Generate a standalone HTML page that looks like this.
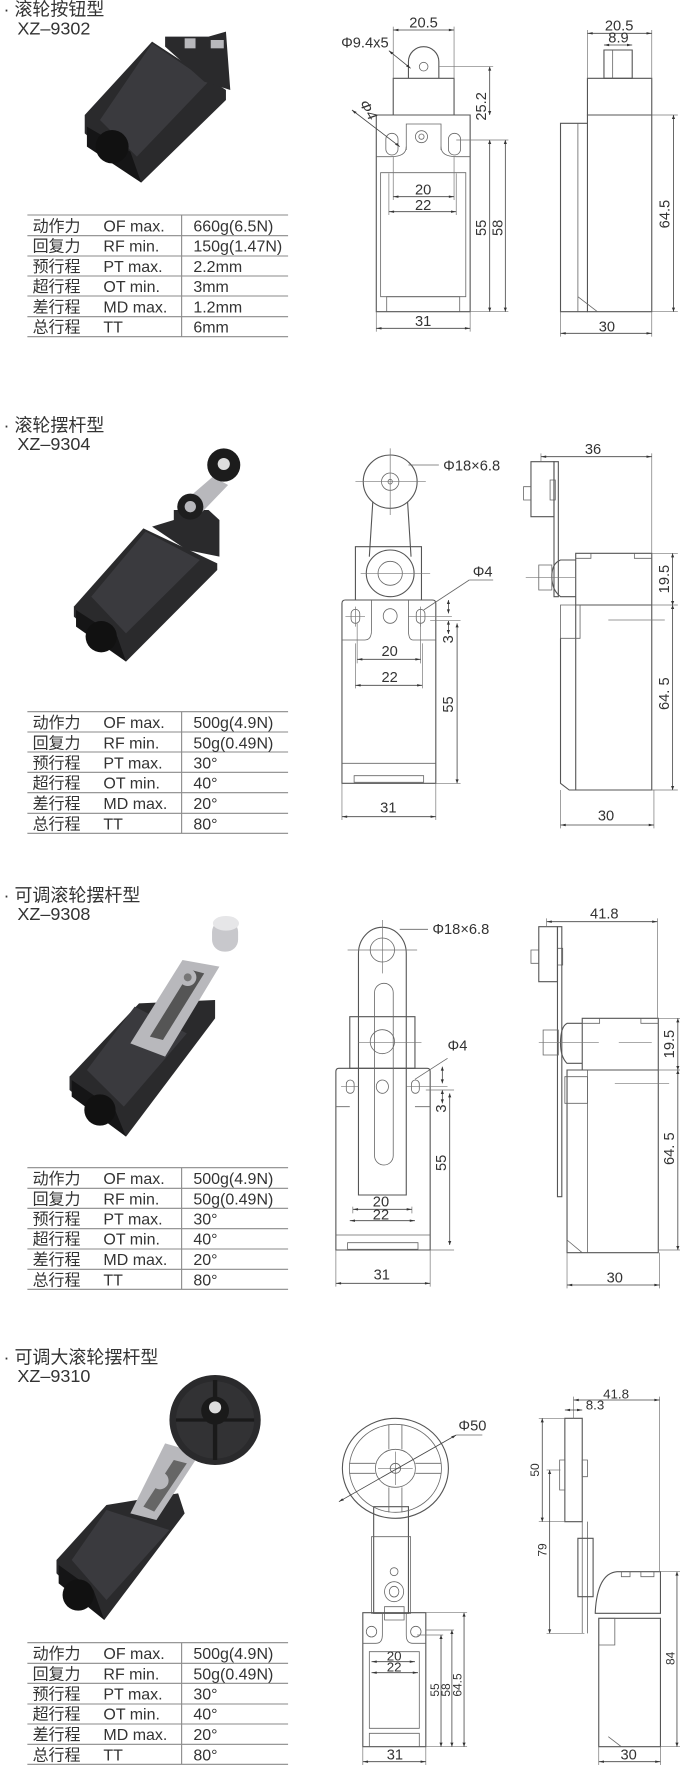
<!DOCTYPE html>
<html><head><meta charset="utf-8">
<style>
html,body{margin:0;padding:0;background:#fff;width:680px;height:1765px;overflow:hidden;position:relative}
svg.s{position:absolute;left:0;width:680px}
svg text{font-family:"Liberation Sans","Noto Sans CJK SC",sans-serif;fill:#333;font-size:44px}
svg text:not(.r){transform:scaleX(.767);transform-box:fill-box;transform-origin:0 0}
.l,.t,.d,.c,.tb line{vector-effect:non-scaling-stroke}
.l{stroke:#555;stroke-width:1.1;fill:none}
.t{stroke:#666;stroke-width:.8;fill:none}
.d{stroke:#444;stroke-width:.8;fill:none;marker-start:url(#a);marker-end:url(#a)}
.c{stroke:#777;stroke-width:.7;fill:none}
.tb line{stroke:#8a8a8a;stroke-width:1.1}
.ph{fill:#2a2a2c}
.ph2{fill:#3a3a3e}
.ph3{fill:#151516}
.m{fill:#b8b8bc}
.big{font-size:54px}
.tx{font-size:48px}
</style></head><body>
<svg width="0" height="0" style="position:absolute"><defs>
<marker id="a" viewBox="0 0 10 10" refX="10" refY="5" markerWidth="16" markerHeight="12" markerUnits="userSpaceOnUse" orient="auto-start-reverse"><path d="M0,2L10,5L0,8z" fill="#333"/></marker>
</defs></svg>

<!-- SECTION 1 -->
<svg class="s" style="top:0;height:420px" viewBox="0 0 1565 1260" preserveAspectRatio="none">
<text x="8" y="46" class="big">· 滚轮按钮型</text>
<text x="40" y="104" class="big">XZ–9302</text>
<polygon class="ph" points="350,125 520,270 520,300 325,548 195,400 195,345"/>
<polygon class="ph2" points="350,130 480,245 315,470 230,360"/>
<polygon class="ph3" points="200,380 300,455 325,548 200,440"/>
<ellipse cx="258" cy="440" rx="38" ry="50" fill="#111"/>
<polygon class="ph" points="380,110 480,110 520,95 530,270 470,245 380,140"/>
<rect x="425" y="115" width="25" height="30" class="m"/>
<rect x="485" y="120" width="30" height="25" class="m"/>
<g class="tb"><line x1="63" y1="645" x2="663" y2="645"/><line x1="63" y1="707" x2="663" y2="707"/><line x1="63" y1="768" x2="663" y2="768"/><line x1="63" y1="828" x2="663" y2="828"/><line x1="63" y1="888" x2="663" y2="888"/><line x1="63" y1="950" x2="663" y2="950"/><line x1="63" y1="1010" x2="663" y2="1010"/><line x1="418" y1="645" x2="418" y2="1010"/></g>
<text class="tx" x="75" y="694">动作力</text><text class="tx" x="238" y="694">OF  max.</text><text class="tx" x="445" y="694">660g(6.5N)</text>
<text class="tx" x="75" y="755">回复力</text><text class="tx" x="238" y="755">RF  min.</text><text class="tx" x="445" y="755">150g(1.47N)</text>
<text class="tx" x="75" y="816">预行程</text><text class="tx" x="238" y="816">PT  max.</text><text class="tx" x="445" y="816">2.2mm</text>
<text class="tx" x="75" y="876">超行程</text><text class="tx" x="238" y="876">OT  min.</text><text class="tx" x="445" y="876">3mm</text>
<text class="tx" x="75" y="937">差行程</text><text class="tx" x="238" y="937">MD max.</text><text class="tx" x="445" y="937">1.2mm</text>
<text class="tx" x="75" y="998">总行程</text><text class="tx" x="238" y="998">TT</text><text class="tx" x="445" y="998">6mm</text>
<rect x="866" y="345" width="216" height="590" class="l"/>
<rect x="905" y="235" width="140" height="110" class="l"/>
<path d="M940,235 V185 A35,45 0 0 1 1010,185 V235" class="l"/>
<ellipse cx="975" cy="200" rx="10" ry="13" class="t"/>
<path d="M935,450 V372 H1015 V450" class="t"/>
<ellipse cx="970" cy="410" rx="14" ry="18" class="t"/><ellipse cx="970" cy="410" rx="6" ry="8" class="t"/>
<path d="M866,470 H900 Q935,470 935,440 M1082,470 H1050 Q1015,470 1015,440" class="t"/>
<rect x="888" y="400" width="28" height="65" rx="14" ry="18" class="t"/>
<rect x="1032" y="400" width="28" height="65" rx="14" ry="18" class="t"/>
<rect x="876" y="518" width="196" height="372" class="t"/>
<path d="M890,935 V890 H1058 V935" class="t"/>
<line x1="905" y1="80" x2="905" y2="235" class="c"/><line x1="1045" y1="80" x2="1045" y2="235" class="c"/>
<line x1="905" y1="90" x2="1045" y2="90" class="d"/><text x="942" y="82">20.5</text>
<text x="785" y="142">Φ9.4x5</text><line x1="895" y1="152" x2="945" y2="205" class="d"/>
<line x1="1010" y1="200" x2="1135" y2="200" class="c"/>
<line x1="1127" y1="200" x2="1127" y2="345" class="d"/>
<text class="r" transform="translate(1118,362) rotate(-90) scale(1,0.767)">25.2</text>
<text class="r" transform="translate(825,308) rotate(65) scale(1,0.767)">Φ4</text>
<line x1="810" y1="330" x2="920" y2="440" class="d"/>
<line x1="1050" y1="420" x2="1170" y2="420" class="c"/><line x1="1082" y1="935" x2="1170" y2="935" class="c"/>
<line x1="1127" y1="420" x2="1127" y2="935" class="d"/><line x1="1163" y1="420" x2="1163" y2="935" class="d"/>
<text class="r" transform="translate(1118,708) rotate(-90) scale(1,0.767)">55</text>
<text class="r" transform="translate(1156,708) rotate(-90) scale(1,0.767)">58</text>
<line x1="905" y1="470" x2="905" y2="600" class="c"/><line x1="1045" y1="470" x2="1045" y2="600" class="c"/>
<line x1="895" y1="520" x2="895" y2="645" class="c"/><line x1="1050" y1="520" x2="1050" y2="645" class="c"/>
<line x1="905" y1="590" x2="1045" y2="590" class="d"/><text x="955" y="583">20</text>
<line x1="895" y1="635" x2="1050" y2="635" class="d"/><text x="955" y="630">22</text>
<line x1="866" y1="935" x2="866" y2="995" class="c"/><line x1="1082" y1="935" x2="1082" y2="995" class="c"/>
<line x1="866" y1="985" x2="1082" y2="985" class="d"/><text x="955" y="978">31</text>
<rect x="1352" y="345" width="148" height="590" class="l"/>
<rect x="1352" y="235" width="148" height="110" class="l"/>
<rect x="1390" y="150" width="65" height="85" class="l"/>
<line x1="1410" y1="150" x2="1410" y2="235" class="t"/>
<path d="M1352,370 H1290 V935 H1352" class="l"/>
<line x1="1330" y1="370" x2="1330" y2="935" class="t"/>
<path d="M1330,890 L1375,935" class="t"/>
<line x1="1352" y1="90" x2="1352" y2="235" class="c"/><line x1="1500" y1="90" x2="1500" y2="235" class="c"/>
<line x1="1352" y1="100" x2="1500" y2="100" class="d"/><text x="1392" y="92">20.5</text>
<line x1="1390" y1="135" x2="1455" y2="135" class="d"/><text x="1400" y="128">8.9</text>
<line x1="1500" y1="345" x2="1560" y2="345" class="c"/><line x1="1500" y1="935" x2="1560" y2="935" class="c"/>
<line x1="1550" y1="345" x2="1550" y2="935" class="d"/>
<text class="r" transform="translate(1541,685) rotate(-90) scale(1,0.767)">64.5</text>
<line x1="1290" y1="935" x2="1290" y2="1010" class="c"/><line x1="1500" y1="935" x2="1500" y2="1010" class="c"/>
<line x1="1290" y1="1000" x2="1500" y2="1000" class="d"/><text x="1378" y="995">30</text>
</svg>

<!-- SECTION 2 -->
<svg class="s" style="top:410px;height:440px" viewBox="0 0 1565 1320" preserveAspectRatio="none">
<text x="8" y="64" class="big">· 滚轮摆杆型</text>
<text x="40" y="120" class="big">XZ–9304</text>
<polygon class="ph" points="330,355 500,460 500,480 290,755 170,620 170,590"/>
<polygon class="ph2" points="335,365 460,450 290,670 210,560"/>
<polygon class="ph3" points="175,600 270,680 290,755 175,650"/>
<ellipse cx="233" cy="680" rx="36" ry="47" fill="#111"/>
<polygon class="ph" points="350,350 400,330 400,300 480,300 505,330 505,440 430,420"/>
<polygon class="m" points="410,290 490,200 525,225 455,320"/>
<ellipse cx="438" cy="290" rx="30" ry="39" fill="#1e1e1e"/><ellipse cx="438" cy="290" rx="13" ry="17" class="m"/>
<ellipse cx="515" cy="165" rx="38" ry="50" fill="#1c1c1c"/><ellipse cx="515" cy="162" rx="14" ry="18" fill="#ddd"/>
<g class="tb"><line x1="63" y1="905" x2="663" y2="905"/><line x1="63" y1="966" x2="663" y2="966"/><line x1="63" y1="1026" x2="663" y2="1026"/><line x1="63" y1="1087" x2="663" y2="1087"/><line x1="63" y1="1148" x2="663" y2="1148"/><line x1="63" y1="1210" x2="663" y2="1210"/><line x1="63" y1="1270" x2="663" y2="1270"/><line x1="418" y1="905" x2="418" y2="1270"/></g>
<text class="tx" x="75" y="954">动作力</text><text class="tx" x="238" y="954">OF  max.</text><text class="tx" x="445" y="954">500g(4.9N)</text>
<text class="tx" x="75" y="1015">回复力</text><text class="tx" x="238" y="1015">RF  min.</text><text class="tx" x="445" y="1015">50g(0.49N)</text>
<text class="tx" x="75" y="1075">预行程</text><text class="tx" x="238" y="1075">PT  max.</text><text class="tx" x="445" y="1075">30°</text>
<text class="tx" x="75" y="1136">超行程</text><text class="tx" x="238" y="1136">OT  min.</text><text class="tx" x="445" y="1136">40°</text>
<text class="tx" x="75" y="1197">差行程</text><text class="tx" x="238" y="1197">MD max.</text><text class="tx" x="445" y="1197">20°</text>
<text class="tx" x="75" y="1258">总行程</text><text class="tx" x="238" y="1258">TT</text><text class="tx" x="445" y="1258">80°</text>
<path d="M795,570 H995 Q1003,570 1003,580 V1120 H787 V580 Q787,570 795,570" class="l"/>
<rect x="818" y="410" width="152" height="160" class="l"/>
<path d="M787,690 H840 Q855,690 855,660 V570 M1003,690 H950 Q940,690 940,660 V570" class="t"/>
<line x1="787" y1="1060" x2="1003" y2="1060" class="t"/>
<rect x="815" y="1097" width="160" height="20" class="t"/>
<ellipse cx="898" cy="215" rx="62" ry="80" class="l"/><ellipse cx="898" cy="215" rx="20" ry="26" class="t"/><ellipse cx="898" cy="215" rx="5" ry="7" class="t"/>
<path d="M858,275 L850,440 M938,275 L946,440" class="l"/>
<ellipse cx="898" cy="490" rx="55" ry="70" class="l"/><ellipse cx="898" cy="490" rx="28" ry="36" class="t"/>
<line x1="818" y1="215" x2="980" y2="215" class="c"/><line x1="898" y1="115" x2="898" y2="315" class="c"/>
<line x1="830" y1="490" x2="990" y2="490" class="c"/>
<rect x="808" y="598" width="20" height="42" rx="10" ry="13" class="t"/><rect x="958" y="598" width="20" height="42" rx="10" ry="13" class="t"/>
<ellipse cx="898" cy="618" rx="16" ry="22" class="t"/>
<line x1="795" y1="620" x2="840" y2="620" class="c"/><line x1="818" y1="590" x2="818" y2="650" class="c"/>
<line x1="940" y1="620" x2="1040" y2="620" class="c"/><line x1="968" y1="590" x2="968" y2="650" class="c"/>
<line x1="940" y1="165" x2="1010" y2="165" class="t"/><text x="1020" y="182">Φ18×6.8</text>
<line x1="1080" y1="510" x2="975" y2="600" class="t"/><line x1="1080" y1="510" x2="1135" y2="510" class="t"/><text x="1088" y="500">Φ4</text>
<line x1="1032" y1="570" x2="1032" y2="610" class="d"/><line x1="1032" y1="672" x2="1032" y2="632" class="d"/>
<line x1="990" y1="632" x2="1060" y2="632" class="c"/>
<text class="r" transform="translate(1042,700) rotate(-90) scale(1,0.767)">3</text>
<line x1="822" y1="640" x2="822" y2="760" class="c"/><line x1="968" y1="640" x2="968" y2="760" class="c"/>
<line x1="818" y1="700" x2="818" y2="835" class="c"/><line x1="972" y1="700" x2="972" y2="835" class="c"/>
<line x1="822" y1="748" x2="968" y2="748" class="d"/><text x="878" y="738">20</text>
<line x1="818" y1="826" x2="972" y2="826" class="d"/><text x="878" y="816">22</text>
<line x1="1003" y1="1120" x2="1060" y2="1120" class="c"/>
<line x1="1052" y1="640" x2="1052" y2="1120" class="d"/>
<text class="r" transform="translate(1043,908) rotate(-90) scale(1,0.767)">55</text>
<line x1="787" y1="1120" x2="787" y2="1230" class="c"/><line x1="1003" y1="1120" x2="1003" y2="1230" class="c"/>
<line x1="787" y1="1220" x2="1003" y2="1220" class="d"/><text x="875" y="1208">31</text>
<rect x="1222" y="155" width="53" height="165" class="l"/>
<path d="M1222,230 H1205 V270 H1222" class="t"/>
<rect x="1266" y="210" width="12" height="60" class="t"/>
<rect x="1275" y="155" width="10" height="405" class="l"/>
<path d="M1325,585 V430 H1500 V585" class="l"/>
<path d="M1325,560 H1290 Q1270,540 1270,500 Q1270,460 1290,450 H1325" class="l"/>
<rect x="1240" y="465" width="30" height="75" class="t"/>
<line x1="1210" y1="502" x2="1325" y2="502" class="c"/>
<path d="M1360,430 V445 H1325 M1460,430 V445 H1500" class="t"/>
<rect x="1325" y="585" width="175" height="555" class="l"/>
<rect x="1290" y="585" width="45" height="100" class="t"/>
<path d="M1290,685 V1120 L1310,1140 H1325" class="l"/>
<line x1="1400" y1="630" x2="1530" y2="630" class="c"/>
<line x1="1245" y1="130" x2="1245" y2="155" class="c"/><line x1="1500" y1="130" x2="1500" y2="430" class="c"/>
<line x1="1245" y1="140" x2="1500" y2="140" class="d"/><text x="1346" y="132">36</text>
<line x1="1500" y1="430" x2="1560" y2="430" class="c"/><line x1="1500" y1="585" x2="1560" y2="585" class="c"/><line x1="1500" y1="1140" x2="1560" y2="1140" class="c"/>
<line x1="1548" y1="430" x2="1548" y2="585" class="d"/><line x1="1548" y1="585" x2="1548" y2="1140" class="d"/>
<text class="r" transform="translate(1540,550) rotate(-90) scale(1,0.767)">19.5</text>
<text class="r" transform="translate(1540,900) rotate(-90) scale(1,0.767)">64. 5</text>
<line x1="1290" y1="1140" x2="1290" y2="1255" class="c"/><line x1="1505" y1="1140" x2="1505" y2="1255" class="c"/>
<line x1="1290" y1="1245" x2="1505" y2="1245" class="d"/><text x="1376" y="1232">30</text>
</svg>

<!-- SECTION 3 -->
<svg class="s" style="top:870px;height:440px" viewBox="0 0 1565 1320" preserveAspectRatio="none">
<text x="8" y="94" class="big">· 可调滚轮摆杆型</text>
<text x="40" y="150" class="big">XZ–9308</text>
<polygon class="ph" points="320,400 495,390 495,445 290,800 160,660 160,620"/>
<polygon class="ph2" points="310,410 430,490 285,710 200,600"/>
<polygon class="ph3" points="165,630 265,720 290,800 165,680"/>
<ellipse cx="230" cy="720" rx="36" ry="47" fill="#111"/>
<polygon class="m" points="300,520 420,270 505,290 380,560"/>
<polygon fill="#555" points="345,500 440,300 470,310 375,510"/>
<ellipse cx="432" cy="322" rx="20" ry="26" class="m"/><ellipse cx="432" cy="322" rx="9" ry="12" fill="#777"/>
<rect x="488" y="150" width="60" height="95" rx="28" ry="36" fill="#c8c8cc"/><ellipse cx="520" cy="160" rx="30" ry="22" fill="#e6e6e8"/>
<g class="tb"><line x1="63" y1="893" x2="663" y2="893"/><line x1="63" y1="955" x2="663" y2="955"/><line x1="63" y1="1015" x2="663" y2="1015"/><line x1="63" y1="1076" x2="663" y2="1076"/><line x1="63" y1="1137" x2="663" y2="1137"/><line x1="63" y1="1198" x2="663" y2="1198"/><line x1="63" y1="1258" x2="663" y2="1258"/><line x1="418" y1="893" x2="418" y2="1258"/></g>
<text class="tx" x="75" y="942">动作力</text><text class="tx" x="238" y="942">OF  max.</text><text class="tx" x="445" y="942">500g(4.9N)</text>
<text class="tx" x="75" y="1003">回复力</text><text class="tx" x="238" y="1003">RF  min.</text><text class="tx" x="445" y="1003">50g(0.49N)</text>
<text class="tx" x="75" y="1063">预行程</text><text class="tx" x="238" y="1063">PT  max.</text><text class="tx" x="445" y="1063">30°</text>
<text class="tx" x="75" y="1124">超行程</text><text class="tx" x="238" y="1124">OT  min.</text><text class="tx" x="445" y="1124">40°</text>
<text class="tx" x="75" y="1185">差行程</text><text class="tx" x="238" y="1185">MD max.</text><text class="tx" x="445" y="1185">20°</text>
<text class="tx" x="75" y="1246">总行程</text><text class="tx" x="238" y="1246">TT</text><text class="tx" x="445" y="1246">80°</text>
<path d="M780,595 H983 Q990,595 990,605 V1140 H773 V605 Q773,595 780,595" class="l"/>
<rect x="805" y="440" width="150" height="155" class="l"/>
<path d="M773,710 H805 M990,710 H955" class="t"/>
<line x1="773" y1="1095" x2="990" y2="1095" class="t"/>
<rect x="800" y="1118" width="162" height="20" class="t"/>
<path d="M825,975 V250 A55,78 0 1 1 935,250 V975 Z" class="l" fill="#fff"/>
<ellipse cx="880" cy="240" rx="28" ry="36" class="t"/>
<line x1="800" y1="240" x2="960" y2="240" class="c"/><line x1="880" y1="150" x2="880" y2="310" class="c"/>
<rect x="862" y="340" width="43" height="545" rx="21" ry="28" class="t"/>
<ellipse cx="880" cy="515" rx="28" ry="36" class="t"/><line x1="825" y1="517" x2="970" y2="517" class="c"/>
<ellipse cx="880" cy="650" rx="14" ry="20" class="t"/>
<rect x="797" y="630" width="18" height="40" rx="9" ry="12" class="t"/><rect x="947" y="630" width="18" height="40" rx="9" ry="12" class="t"/>
<line x1="785" y1="650" x2="825" y2="650" class="c"/><line x1="935" y1="650" x2="1030" y2="650" class="c"/>
<line x1="920" y1="178" x2="985" y2="178" class="t"/><text x="995" y="192">Φ18×6.8</text>
<line x1="1030" y1="565" x2="955" y2="628" class="t"/><text x="1030" y="542">Φ4</text>
<line x1="1018" y1="590" x2="1018" y2="640" class="d"/><line x1="1018" y1="700" x2="1018" y2="660" class="d"/>
<line x1="980" y1="660" x2="1045" y2="660" class="c"/>
<text class="r" transform="translate(1027,728) rotate(-90) scale(1,0.767)">3</text>
<line x1="812" y1="1010" x2="812" y2="1030" class="c"/><line x1="948" y1="1010" x2="948" y2="1030" class="c"/>
<line x1="812" y1="1018" x2="948" y2="1018" class="d"/><text x="858" y="1010">20</text>
<line x1="805" y1="1052" x2="955" y2="1052" class="d"/><text x="858" y="1048">22</text>
<line x1="990" y1="1140" x2="1045" y2="1140" class="c"/>
<line x1="1035" y1="670" x2="1035" y2="1125" class="d"/>
<text class="r" transform="translate(1026,903) rotate(-90) scale(1,0.767)">55</text>
<line x1="773" y1="1140" x2="773" y2="1250" class="c"/><line x1="990" y1="1140" x2="990" y2="1250" class="c"/>
<line x1="773" y1="1240" x2="990" y2="1240" class="d"/><text x="860" y="1228">31</text>
<rect x="1240" y="170" width="43" height="165" class="l"/>
<path d="M1240,240 H1222 V280 H1240" class="t"/>
<rect x="1283" y="235" width="12" height="50" class="t"/>
<rect x="1283" y="170" width="10" height="810" class="l"/>
<path d="M1340,600 V445 H1515 V600" class="l"/>
<path d="M1340,580 H1305 Q1290,560 1290,520 Q1290,470 1305,460 H1340" class="l"/>
<rect x="1250" y="480" width="35" height="75" class="t"/>
<line x1="1240" y1="517" x2="1500" y2="517" class="c" stroke-dasharray="60 20"/>
<path d="M1380,445 V460 H1340 M1475,445 V460 H1515" class="t"/>
<rect x="1305" y="600" width="210" height="548" class="l"/>
<line x1="1352" y1="600" x2="1352" y2="1148" class="t"/>
<rect x="1300" y="620" width="52" height="80" class="t"/>
<path d="M1305,1110 L1340,1148" class="t"/>
<line x1="1415" y1="640" x2="1540" y2="640" class="c"/>
<line x1="1258" y1="145" x2="1258" y2="170" class="c"/><line x1="1513" y1="145" x2="1513" y2="445" class="c"/>
<line x1="1258" y1="155" x2="1513" y2="155" class="d"/><text x="1358" y="145">41.8</text>
<line x1="1515" y1="445" x2="1565" y2="445" class="c"/><line x1="1515" y1="600" x2="1565" y2="600" class="c"/><line x1="1515" y1="1140" x2="1565" y2="1140" class="c"/>
<line x1="1560" y1="445" x2="1560" y2="600" class="d"/><line x1="1560" y1="600" x2="1560" y2="1140" class="d"/>
<text class="r" transform="translate(1551,565) rotate(-90) scale(1,0.767)">19.5</text>
<text class="r" transform="translate(1551,885) rotate(-90) scale(1,0.767)">64. 5</text>
<line x1="1305" y1="1148" x2="1305" y2="1255" class="c"/><line x1="1518" y1="1148" x2="1518" y2="1255" class="c"/>
<line x1="1305" y1="1245" x2="1518" y2="1245" class="d"/><text x="1396" y="1238">30</text>
</svg>

<!-- SECTION 4 -->
<svg class="s" style="top:1320px;height:445px" viewBox="0 0 1565 1335" preserveAspectRatio="none">
<text x="8" y="130" class="big">· 可调大滚轮摆杆型</text>
<text x="40" y="186" class="big">XZ–9310</text>
<polygon class="ph" points="245,555 410,520 425,580 240,900 130,760 130,720"/>
<polygon class="ph2" points="245,570 390,630 245,840 165,720"/>
<polygon class="ph3" points="135,735 215,810 240,900 135,790"/>
<ellipse cx="180" cy="825" rx="36" ry="47" fill="#111"/>
<polygon class="m" points="300,580 380,370 460,400 360,600"/>
<polygon fill="#666" points="330,560 400,420 430,430 355,575"/>
<ellipse cx="368" cy="482" rx="20" ry="26" class="m"/>
<ellipse cx="495" cy="300" rx="105" ry="135" fill="#2a2a2c"/>
<ellipse cx="495" cy="300" rx="90" ry="116" fill="#323234"/>
<path d="M405,300 H585 M495,180 V420" stroke="#1a1a1a" stroke-width="10"/>
<ellipse cx="495" cy="272" rx="32" ry="42" fill="#1a1a1a"/><ellipse cx="495" cy="262" rx="14" ry="18" fill="#ddd"/>
<g class="tb"><line x1="63" y1="968" x2="663" y2="968"/><line x1="63" y1="1030" x2="663" y2="1030"/><line x1="63" y1="1090" x2="663" y2="1090"/><line x1="63" y1="1152" x2="663" y2="1152"/><line x1="63" y1="1212" x2="663" y2="1212"/><line x1="63" y1="1273" x2="663" y2="1273"/><line x1="63" y1="1333" x2="663" y2="1333"/><line x1="418" y1="968" x2="418" y2="1333"/></g>
<text class="tx" x="75" y="1017">动作力</text><text class="tx" x="238" y="1017">OF  max.</text><text class="tx" x="445" y="1017">500g(4.9N)</text>
<text class="tx" x="75" y="1078">回复力</text><text class="tx" x="238" y="1078">RF  min.</text><text class="tx" x="445" y="1078">50g(0.49N)</text>
<text class="tx" x="75" y="1138">预行程</text><text class="tx" x="238" y="1138">PT  max.</text><text class="tx" x="445" y="1138">30°</text>
<text class="tx" x="75" y="1199">超行程</text><text class="tx" x="238" y="1199">OT  min.</text><text class="tx" x="445" y="1199">40°</text>
<text class="tx" x="75" y="1260">差行程</text><text class="tx" x="238" y="1260">MD max.</text><text class="tx" x="445" y="1260">20°</text>
<text class="tx" x="75" y="1321">总行程</text><text class="tx" x="238" y="1321">TT</text><text class="tx" x="445" y="1321">80°</text>
<rect x="860" y="560" width="80" height="320" class="l"/>
<rect x="855" y="650" width="90" height="230" class="t"/>
<ellipse cx="910" cy="445" rx="122" ry="150" class="l" fill="#fff"/>
<ellipse cx="910" cy="445" rx="106" ry="132" class="t"/>
<ellipse cx="910" cy="445" rx="46" ry="57" class="t"/>
<path d="M895,313 V388 M925,313 V388 M895,502 V577 M925,502 V577 M804,430 H864 M804,460 H864 M956,430 H1016 M956,460 H1016" class="t"/>
<line x1="870" y1="445" x2="950" y2="445" class="c"/><line x1="910" y1="395" x2="910" y2="495" class="c"/>
<ellipse cx="910" cy="445" rx="12" ry="15" class="t"/>
<line x1="780" y1="545" x2="1050" y2="345" class="d"/><line x1="1050" y1="345" x2="1110" y2="345" class="t"/>
<text x="1055" y="332">Φ50</text>
<ellipse cx="907" cy="755" rx="9" ry="12" class="t"/>
<ellipse cx="907" cy="815" rx="22" ry="30" class="t"/><ellipse cx="907" cy="815" rx="11" ry="16" class="t"/>
<path d="M885,860 H930 V900 H885 Z" class="t"/>
<rect x="835" y="878" width="145" height="402" class="l"/>
<path d="M835,970 H865 Q880,970 880,945 V878 M980,970 H950 Q935,970 935,945 V878" class="t"/>
<ellipse cx="855" cy="935" rx="12" ry="16" class="t"/><ellipse cx="957" cy="935" rx="12" ry="16" class="t"/>
<rect x="850" y="995" width="115" height="230" class="t"/>
<path d="M850,1280 V1240 H965 V1280" class="t"/>
<line x1="855" y1="1025" x2="955" y2="1025" class="d"/><text x="890" y="1022" style="font-size:40px">20</text>
<line x1="855" y1="1058" x2="962" y2="1058" class="d"/><text x="890" y="1055" style="font-size:40px">22</text>
<line x1="960" y1="945" x2="1020" y2="945" class="c"/><line x1="980" y1="930" x2="1045" y2="930" class="c"/><line x1="980" y1="878" x2="1075" y2="878" class="c"/><line x1="980" y1="1280" x2="1075" y2="1280" class="c"/>
<line x1="1015" y1="945" x2="1015" y2="1280" class="d"/><line x1="1040" y1="930" x2="1040" y2="1280" class="d"/><line x1="1068" y1="878" x2="1068" y2="1280" class="d"/>
<text class="r" style="font-size:36px" transform="translate(1010,1130) rotate(-90) scale(1,0.767)">55</text>
<text class="r" style="font-size:36px" transform="translate(1036,1130) rotate(-90) scale(1,0.767)">58</text>
<text class="r" style="font-size:36px" transform="translate(1062,1130) rotate(-90) scale(1,0.767)">64.5</text>
<line x1="835" y1="1280" x2="835" y2="1335" class="c"/><line x1="980" y1="1280" x2="980" y2="1335" class="c"/>
<line x1="835" y1="1325" x2="980" y2="1325" class="d"/><text x="890" y="1318">31</text>
<rect x="1300" y="295" width="40" height="310" class="l"/>
<rect x="1288" y="420" width="12" height="90" class="t"/>
<rect x="1340" y="420" width="12" height="50" class="t"/>
<line x1="1340" y1="605" x2="1340" y2="940" class="t"/><line x1="1352" y1="605" x2="1352" y2="940" class="t"/>
<rect x="1330" y="655" width="35" height="175" class="l"/>
<path d="M1370,875 Q1375,760 1420,755 H1520 V880 H1370 Z" class="l"/>
<path d="M1430,755 V770 H1450 V755 M1475,755 V770 H1505 V755" class="t"/>
<rect x="1378" y="895" width="142" height="385" class="l"/>
<rect x="1378" y="895" width="37" height="80" class="t"/>
<path d="M1400,1250 L1430,1280" class="t"/>
<line x1="1320" y1="230" x2="1320" y2="295" class="c"/><line x1="1518" y1="230" x2="1518" y2="755" class="c"/>
<line x1="1320" y1="240" x2="1518" y2="240" class="d"/><text x="1388" y="236" style="font-size:40px">41.8</text>
<line x1="1300" y1="270" x2="1340" y2="270" class="d"/><text x="1348" y="268" style="font-size:40px">8.3</text>
<line x1="1240" y1="295" x2="1300" y2="295" class="c"/><line x1="1240" y1="605" x2="1300" y2="605" class="c"/>
<line x1="1248" y1="295" x2="1248" y2="605" class="d"/>
<text class="r" style="font-size:36px" transform="translate(1240,470) rotate(-90) scale(1,0.767)">50</text>
<line x1="1258" y1="450" x2="1290" y2="450" class="c"/><line x1="1258" y1="940" x2="1345" y2="940" class="c"/>
<line x1="1265" y1="450" x2="1265" y2="940" class="d"/>
<text class="r" style="font-size:36px" transform="translate(1258,710) rotate(-90) scale(1,0.767)">79</text>
<line x1="1520" y1="755" x2="1565" y2="755" class="c"/><line x1="1520" y1="1280" x2="1565" y2="1280" class="c"/>
<line x1="1558" y1="755" x2="1558" y2="1280" class="d"/>
<text class="r" style="font-size:36px" transform="translate(1552,1035) rotate(-90) scale(1,0.767)">84</text>
<line x1="1378" y1="1280" x2="1378" y2="1335" class="c"/><line x1="1520" y1="1280" x2="1520" y2="1335" class="c"/>
<line x1="1378" y1="1325" x2="1520" y2="1325" class="d"/><text x="1428" y="1318">30</text>
</svg>
</body></html>
